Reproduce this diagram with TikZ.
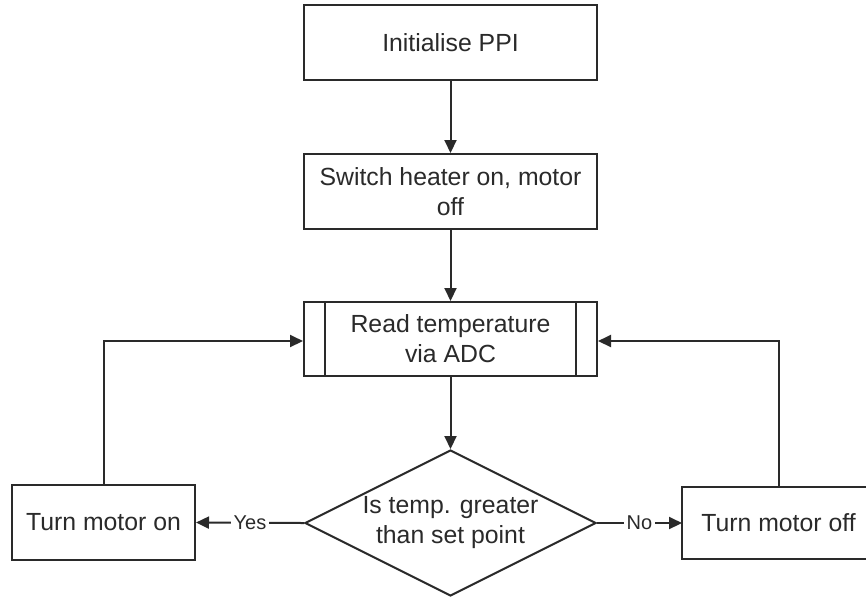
\documentclass[tikz,border=0pt]{standalone}
\usepackage{fontspec}
\setmainfont{Liberation Sans}
\usetikzlibrary{shapes.geometric,arrows.meta}
\definecolor{ink}{HTML}{2A2A2A}
\begin{document}
\begin{tikzpicture}[x=0.5pt,y=-0.5pt,
  flow/.style={draw=ink, line width=1pt},
  label font/.style={font=\fontsize{12.4}{15}\selectfont, text=ink},
  stepbox/.style={flow, rectangle, inner sep=0pt, align=center, label font},
  decision/.style={flow, diamond, aspect=2, minimum width=145.5pt,
    minimum height=73pt, inner sep=0pt, align=center, label font},
  link/.style={flow, -{Triangle[length=6.5pt,width=6pt]}},
  tag/.style={fill=white, inner sep=1.5pt, font=\fontsize{10}{12}\selectfont, text=ink}
]
% canvas
\fill[white] (0,0) rectangle (866,596);
\useasboundingbox (0,0) rectangle (866,596);
\clip (0,0) rectangle (866,596);

% process steps
\node[stepbox, minimum width=146.5pt, minimum height=37.5pt] (init) at (450.5,42.5) {Initialise PPI};
\node[stepbox, minimum width=146.5pt, minimum height=37.5pt] (heat) at (450.5,191.5) {Switch heater on, motor\\off};
\node[stepbox, minimum width=146.5pt, minimum height=37pt] (read) at (450.5,339) {Read temperature\\via ADC};
% side bars of the predefined-process box
\draw[flow] ([xshift=11pt]read.north west) -- ([xshift=11pt]read.south west);
\draw[flow] ([xshift=-11pt]read.north east) -- ([xshift=-11pt]read.south east);

\node[decision] (test) at (450.5,523) {Is temp. greater\\than set point};

\node[stepbox, minimum width=91.5pt, minimum height=37.5pt] (mon) at (103.5,522.5) {Turn motor on};
% this box runs on past the right edge of the page: only three sides show
\node[label font, inner sep=0pt] (moff) at (778.5,523) {Turn motor off};
\coordinate (offnw) at (682,487);
\coordinate (offsw) at (682,559);
\draw[flow] (920,487) -- (offnw) -- (offsw) -- (920,559);
\coordinate (offtop) at (779,487);

% connectors
\draw[link] (init) -- (heat);
\draw[link] (heat) -- (read);
\draw[link] (read) -- (test);
\draw[link] (test.west) -- node[tag] {Yes} (mon.east);
\draw[link] (test.east) -- node[tag] {No} (offnw |- test.east);
\draw[link] (mon.north) |- ([yshift=-1pt]read.west);
\draw[link] (offtop) |- ([yshift=-1pt]read.east);
\end{tikzpicture}
\end{document}
